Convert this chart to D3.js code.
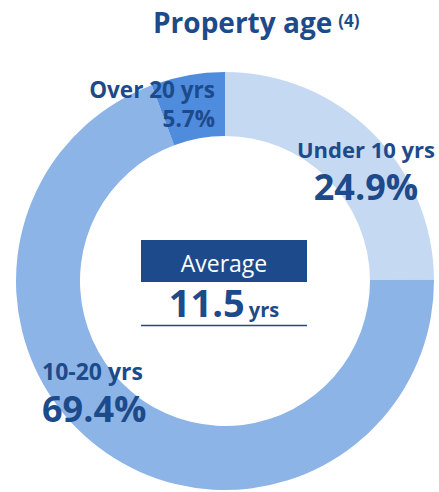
<!DOCTYPE html>
<html><head><meta charset="utf-8">
<script src="https://cdn.jsdelivr.net/npm/d3@7"></script>
<style>body{margin:0;background:#fff}svg{display:block}text{font-family:"Open Sans","Noto Sans",sans-serif}</style>
</head><body>
<svg id="c" width="439" height="492"></svg>
<script>
const categories = ["Under 10 yrs", "10-20 yrs", "Over 20 yrs"];
const values = [24.9, 69.4, 5.7];
const colors = ["#c6d9f2", "#8db4e6", "#4f8cdd"];
const averageValue = "11.5";
const averageUnit = "yrs";
const title = "Property age";
const note = "(4)";

const svg = d3.select("#c");
const navy = "#1c4a8a";
const cx = 225, cy = 281, R = 209, r = 145;

const pie = d3.pie().sort(null).value(d => d)(values);
const arc = d3.arc().innerRadius(r).outerRadius(R);
const g = svg.append("g").attr("transform", `translate(${cx},${cy})`);
g.selectAll("path").data(pie).join("path").attr("d", arc).attr("fill", (d,i) => colors[i]);

// title
const t = svg.append("text").attr("x", 153).attr("y", 33).attr("fill", navy).attr("font-weight", "bold");
t.append("tspan").attr("font-size", 28).text(title);
t.append("tspan").attr("font-size", 17).attr("dx", 6).attr("dy", -6).text(note);

// labels
const lab = [
  {x: 366, y1: 158, y2: 200, anchor: "middle", s1: 22, s2: 36},
  {x: 42, y1: 380, y2: 422, anchor: "start", s1: 23, s2: 36},
  {x: 215, y1: 98, y2: 127, anchor: "end", s1: 22.5, s2: 22.5}
];
categories.forEach((c, i) => {
  const L = lab[i];
  svg.append("text").attr("x", L.x).attr("y", L.y1).attr("text-anchor", L.anchor)
    .attr("font-size", L.s1).attr("font-weight", "bold").attr("fill", navy).text(c);
  svg.append("text").attr("x", L.x).attr("y", L.y2).attr("text-anchor", L.anchor)
    .attr("font-size", L.s2).attr("font-weight", "bold").attr("fill", navy).text(values[i].toFixed(1) + "%");
});

// average box
svg.append("rect").attr("x", 141).attr("y", 240).attr("width", 166).attr("height", 42).attr("fill", navy);
svg.append("text").attr("x", 224).attr("y", 272).attr("text-anchor", "middle").attr("font-size", 23)
  .attr("fill", "#fff").text("Average");
const av = svg.append("text").attr("x", 224).attr("y", 317).attr("text-anchor", "middle").attr("fill", navy).attr("font-weight", "bold");
av.append("tspan").attr("font-size", 38).text(averageValue);
av.append("tspan").attr("font-size", 20).attr("dx", 4).text(averageUnit);
svg.append("line").attr("x1", 141).attr("x2", 307).attr("y1", 325.5).attr("y2", 325.5).attr("stroke", navy).attr("stroke-width", 1.5);
</script>
</body></html>
